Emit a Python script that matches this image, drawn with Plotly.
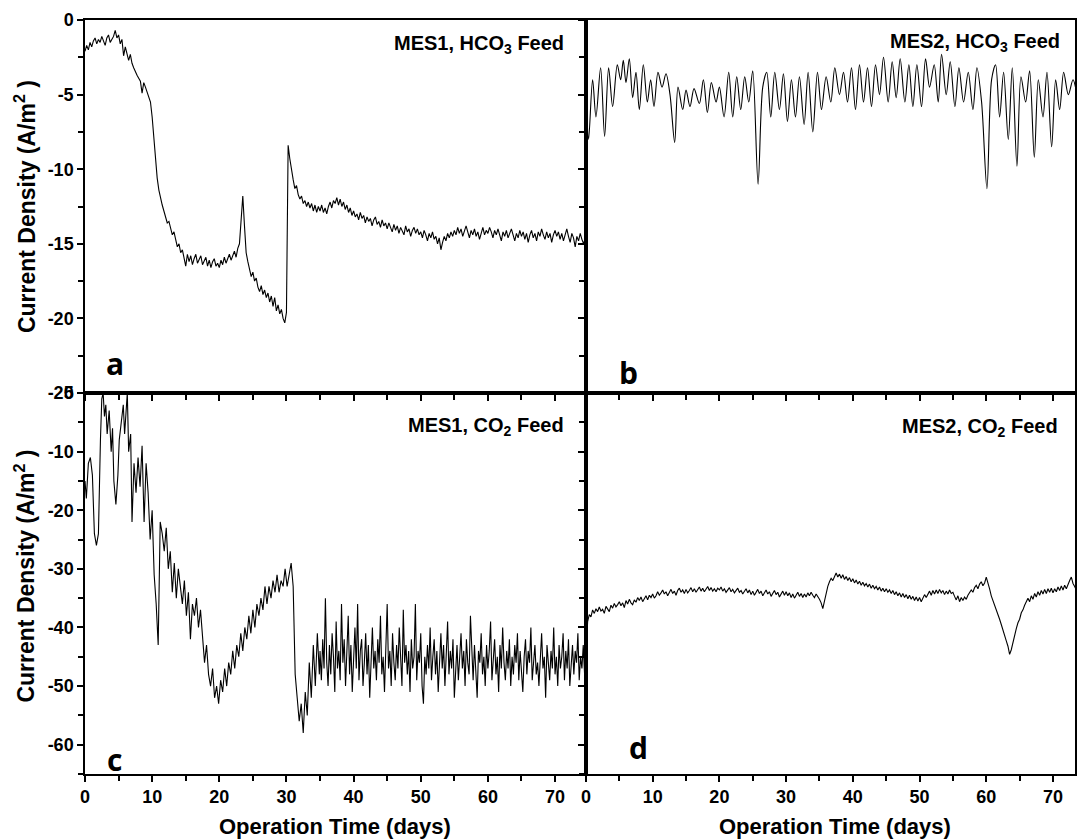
import plotly.graph_objects as go

# ---------------- data ----------------
# MES1, HCO3 feed (panel a): readings every 0.25 day
a_val = [
    -2.1, -1.7, -2.0, -1.5, -1.8, -1.4, -1.2, -1.6, -1.3, -1.5, -1.1, -1.4, -1.7, -1.2, -1.0, -1.5, -1.3, -1.1, -0.7, -1.2,
    -1.0, -1.6, -1.3, -2.4, -1.8, -2.2, -2.7, -2.3, -2.9, -3.2, -3.5, -3.7, -3.9, -4.1, -4.9, -4.2, -4.5, -4.8, -5.2, -5.5,
    -6.5, -8.0, -9.5, -10.6, -11.4, -12.0, -12.4, -12.8, -13.2, -13.6, -13.5, -14.0, -14.4, -14.2, -14.8, -15.2, -15.0, -15.6, -15.4, -16.0,
    -16.5, -15.7, -16.2, -15.8, -16.4, -16.0, -15.7, -16.3, -16.1, -15.8, -16.4, -16.2, -15.9, -16.5, -16.1, -16.6, -16.2, -16.0, -16.5, -16.3,
    -16.6, -16.1, -16.4, -15.9, -16.3, -16.0, -15.7, -16.1, -15.8, -15.5, -15.9, -15.3, -15.0, -13.5, -11.8, -13.8, -15.6, -16.2, -16.8, -17.2,
    -16.9, -17.5, -17.3, -17.9, -18.2, -17.8, -18.4, -18.1, -18.6, -18.3, -18.9, -18.5, -19.2, -18.6, -19.5, -19.1, -19.7, -19.4, -20.0, -20.3,
    -19.6, -8.4, -9.3, -10.1, -10.7, -11.3, -11.1, -11.7, -12.0, -11.8, -12.3, -12.1, -12.5, -12.2, -12.6, -12.3, -12.8, -12.4, -12.9, -12.5,
    -12.8, -12.4, -12.9, -12.6, -13.0, -12.5, -12.2, -12.6, -12.1, -12.3, -11.9, -12.4, -12.0, -12.5, -12.2, -12.7, -12.4, -12.9, -12.6, -13.1,
    -12.8, -13.2, -13.0, -13.4, -12.9, -13.3, -13.1, -13.6, -13.2, -13.5, -13.3, -13.8, -13.4, -13.2, -13.7, -13.5, -13.9, -13.4, -13.8, -13.6,
    -14.0, -13.6, -13.9, -14.2, -13.7, -14.1, -13.8, -14.3, -13.9, -14.1, -14.4, -13.8, -14.2, -14.0, -14.5, -14.1, -13.9, -14.3, -14.0, -14.4,
    -14.2, -14.6, -14.1, -14.4, -14.8, -14.3, -14.6, -14.2, -14.7, -14.5, -15.0, -14.6, -15.4, -14.9, -14.5, -14.8, -14.3, -14.6, -14.2, -14.5,
    -14.1, -14.4, -13.9, -14.3, -14.0, -14.5, -14.1, -13.8, -14.2, -14.6, -14.1, -14.4, -14.0, -14.5, -14.2, -14.7, -14.3, -13.9, -14.4, -14.1,
    -14.3, -13.9, -14.2, -14.6, -14.1, -14.4, -14.0, -14.5, -14.8, -14.2, -14.5, -14.1, -14.6, -14.3, -14.0, -14.4, -14.8, -14.3, -14.6, -14.1,
    -14.5, -14.2, -14.7, -14.3, -14.9, -14.4, -14.1, -14.6, -14.3, -14.8, -14.2, -14.5, -14.0, -14.4, -14.7, -14.2, -14.6, -14.3, -14.9, -14.4,
    -14.1, -14.5, -14.2, -14.7, -14.3, -14.8, -14.4, -14.0, -14.5, -14.9, -14.3, -14.6, -15.2, -14.5, -14.8, -14.3, -14.7, -15.0, -14.6]
a_day = [0.25 * i for i in range(len(a_val))]

# MES2, HCO3 feed (panel b): turning points of the oscillation
b_day = [0, 0.4, 1.0, 1.5, 2.2, 2.8, 3.4, 4.0, 4.7, 5.2, 5.6, 6.0, 6.5, 7.0, 7.5, 8.0, 8.6, 9.2, 9.7, 10.2,
         10.8, 11.4, 12.0, 12.6, 13.3, 13.8, 14.5, 15.0, 15.6, 16.2, 17.0, 17.6, 18.2, 18.8, 19.5, 20.0, 20.7, 21.4, 22.0, 22.6,
         23.2, 23.8, 24.4, 25.0, 25.8, 26.5, 27.1, 27.7, 28.3, 29.0, 29.6, 30.2, 30.8, 31.4, 32.0, 32.7, 33.3, 34.0, 34.7, 35.3,
         36.0, 36.7, 37.3, 38.0, 38.6, 39.2, 39.8, 40.4, 41.0, 41.6, 42.2, 42.8, 43.4, 44.0, 44.6, 45.3, 45.9, 46.5, 47.1, 47.8,
         48.4, 49.0, 49.6, 50.3, 50.9, 51.5, 52.2, 52.8, 53.3, 54.0, 54.6, 55.3, 55.9, 56.6, 57.3, 58.0, 58.6, 59.3, 60.1, 60.8,
         61.4, 62.0, 62.6, 63.3, 63.9, 64.6, 65.2, 65.9, 66.5, 67.2, 67.8, 68.5, 69.1, 69.8, 70.4, 71.0, 71.6, 72.3, 73.0, 73.5]
b_val = [-3.0, -8.0, -4.0, -6.5, -3.2, -7.8, -3.2, -5.8, -3.0, -4.0, -2.7, -4.2, -2.6, -5.2, -3.5, -6.0, -3.0, -5.5, -4.0, -5.8,
         -3.5, -4.5, -3.6, -5.0, -8.2, -4.5, -6.0, -4.7, -5.8, -4.6, -5.6, -4.0, -6.2, -4.2, -5.5, -4.5, -6.5, -3.5, -6.5, -3.8,
         -6.0, -3.8, -5.5, -3.4, -11.0, -4.5, -3.5, -6.5, -3.5, -6.0, -3.6, -6.8, -4.0, -6.5, -3.8, -7.0, -3.5, -7.5, -3.5, -6.0,
         -3.8, -5.5, -3.2, -5.0, -3.5, -5.5, -3.2, -6.0, -3.0, -5.5, -3.2, -5.8, -3.0, -5.0, -2.5, -5.5, -2.8, -5.2, -2.6, -5.5,
         -3.0, -5.8, -3.0, -5.8, -2.6, -4.5, -3.0, -5.5, -2.3, -5.0, -2.8, -5.8, -3.2, -5.5, -3.5, -6.0, -3.2, -5.5, -11.3, -4.0,
         -3.0, -6.5, -3.5, -8.0, -3.2, -9.8, -3.8, -5.5, -3.4, -9.2, -4.0, -6.5, -3.5, -8.5, -4.0, -6.0, -3.5, -5.0, -4.0, -4.8]

# MES1, CO2 feed (panel c): start-up and transition, then readings every 0.2 day from day 35
c_day_start = [0, 0.2, 0.5, 0.8, 1.1, 1.4, 1.7, 2.0, 2.3, 2.5, 2.7, 2.9, 3.1, 3.3, 3.6, 3.9, 4.1, 4.3, 4.6, 4.9,
               5.1, 5.4, 5.7, 5.9, 6.1, 6.3, 6.5, 6.8, 7.0, 7.3, 7.6, 7.9, 8.2, 8.5, 8.8, 9.1, 9.4, 9.7, 10.0, 10.3,
               10.6, 10.9, 11.2, 11.5, 11.8, 12.1, 12.4, 12.7, 13.0, 13.3, 13.6, 13.9, 14.2, 14.5, 14.8, 15.1, 15.4, 15.7, 16.0, 16.3,
               16.6, 16.9, 17.2, 17.5, 17.8, 18.1, 18.4, 18.7, 19.0, 19.3, 19.6, 19.9, 20.2, 20.5, 20.8, 21.1, 21.4, 21.7, 22.0, 22.3,
               22.6, 22.9, 23.2, 23.5, 23.8, 24.1, 24.4, 24.7, 25.0, 25.3, 25.6, 25.9, 26.2, 26.5, 26.8, 27.1, 27.4, 27.7, 28.0, 28.3,
               28.6, 28.9, 29.2, 29.5, 29.8, 30.1, 30.4, 30.7, 31.0, 31.3, 31.6, 31.9, 32.2, 32.5, 32.8, 33.1, 33.4, 33.7, 34.0, 34.3,
               34.6, 34.9]
c_val_start = [-15, -18, -12, -11, -14, -24, -26, -24, -8, -1, 0, -4, -2, -7, -3, -10, -6, -15, -19, -14,
               -8, -5, -2, -7, -3, 0, -10, -7, -22, -12, -17, -11, -16, -9, -22, -12, -17, -25, -20, -31,
               -36, -43, -22, -24, -27, -23, -30, -27, -34, -29, -35, -30, -33, -36, -32, -38, -34, -42, -36, -38,
               -35, -40, -37, -42, -46, -43, -48, -50, -47, -52, -50, -53, -49, -51, -47, -50, -46, -48, -44, -47,
               -43, -45, -41, -44, -40, -42, -38, -41, -37, -40, -36, -38, -35, -37, -33, -36, -33, -35, -32, -34,
               -31, -34, -32, -33, -30, -33, -31, -29, -33, -48, -52, -56, -53, -58, -51, -55, -46, -52, -43, -50,
               -41, -48]
c_val_late = [
    -44, -49, -42, -47, -35, -46, -50, -43, -48, -41, -45, -51, -39, -47, -44, -49, -36, -46, -42, -50,
    -44, -38, -48, -43, -51, -45, -40, -47, -36, -49, -44, -42, -50, -46, -41, -48, -43, -52, -45, -40,
    -47, -44, -49, -42, -46, -38, -48, -45, -51, -43, -36, -47, -44, -50, -41, -46, -49, -43, -47, -40,
    -45, -50, -37, -46, -43, -48, -44, -51, -42, -47, -45, -36, -49, -44, -46, -41, -50, -53, -45, -48,
    -43, -47, -40, -49, -45, -42, -48, -44, -51, -46, -41, -47, -43, -50, -45, -39, -48, -44, -47, -42,
    -52, -46, -43, -49, -45, -41, -47, -44, -50, -42, -46, -48, -38, -45, -49, -43, -47, -52, -44, -46,
    -41, -48, -45, -50, -43, -47, -44, -39, -49, -46, -42, -48, -45, -51, -43, -47, -40, -46, -49, -44,
    -47, -42, -50, -45, -48, -43, -46, -41, -49, -44, -47, -51, -45, -42, -48, -44, -46, -40, -49, -45,
    -43, -48, -46, -50, -44, -41, -47, -45, -52, -43, -46, -49, -44, -47, -40, -48, -45, -50, -43, -47,
    -45, -41, -49, -44, -47, -42, -50, -46, -43, -48, -44, -46, -41, -49, -45, -47, -43, -48, -46]
c_day = c_day_start + [35 + 0.2 * i for i in range(len(c_val_late))]
c_val = c_val_start + c_val_late

# MES2, CO2 feed (panel d): readings every 0.25 day
d_val = [
    -45, -39, -37.8, -38.2, -37.0, -37.6, -36.8, -37.3, -36.5, -37.2, -36.9, -37.6, -36.4, -36.9, -37.3, -36.2, -36.7, -35.9, -36.5, -36.1,
    -35.6, -36.3, -35.8, -36.6, -35.4, -36.0, -35.2, -35.8, -36.1, -35.3, -35.7, -34.9, -35.4, -34.8, -35.6, -35.1, -34.6, -35.3, -34.5, -34.9,
    -34.3, -35.0, -34.6, -33.9, -34.5, -34.1, -33.6, -34.3, -33.9, -34.6, -34.0, -33.5, -34.2, -33.8, -34.5, -33.7, -33.3, -34.0, -33.6, -34.2,
    -33.5, -34.1, -33.7, -33.2, -33.9, -33.4, -34.0, -33.6, -33.1, -33.8, -33.3, -33.9, -33.5, -33.0, -33.7, -33.2, -33.8, -33.4, -33.9, -33.3,
    -33.6, -33.1, -33.8, -33.4, -34.0, -33.5, -33.2, -33.9, -33.5, -34.1, -33.6, -33.3, -34.0, -33.7, -34.3, -33.8, -33.4, -34.1, -33.6, -34.4,
    -33.8, -34.5, -33.9, -33.5, -34.2, -33.8, -34.6, -34.0, -33.6, -34.3, -33.9, -34.7, -34.1, -33.7, -34.4, -34.0, -34.8, -34.2, -33.8, -34.5,
    -33.9, -34.6, -34.1, -34.9, -34.3, -35.0, -34.4, -34.0, -34.7, -34.2, -34.9, -34.3, -34.8, -34.1, -34.6, -34.0, -34.5, -34.9, -34.3, -34.7,
    -35.2, -35.8, -36.8, -35.5, -34.2, -33.0, -32.2, -31.6, -32.0, -31.2, -30.7, -31.4, -30.9, -31.6, -31.0, -31.8, -31.3, -32.0, -31.5, -32.2,
    -31.7, -32.4, -31.9, -32.6, -32.1, -32.8, -32.3, -32.9, -32.5, -33.1, -32.6, -33.3, -32.8, -33.4, -33.0, -33.6, -33.1, -33.8, -33.3, -33.9,
    -33.4, -34.0, -33.6, -34.2, -33.7, -34.4, -33.9, -34.6, -34.1, -34.8, -34.2, -34.9, -34.4, -35.1, -34.5, -35.2, -34.7, -35.4, -34.8, -35.5,
    -34.9, -35.6, -35.0, -34.4, -34.9, -34.2, -33.8, -34.5, -33.7, -34.3, -33.6, -34.2, -33.5, -34.1, -33.7, -34.4, -33.8, -34.3, -33.6, -34.2,
    -34.0, -34.7, -35.3, -34.6, -35.6, -34.9, -35.4, -34.8, -35.2, -34.5, -34.1, -33.6, -34.0, -33.2, -32.8, -33.4, -32.6, -32.2, -32.9, -32.4,
    -31.4, -32.3, -33.4, -34.6, -35.4, -36.0, -36.7, -37.8, -38.6, -39.5, -40.6, -41.5, -42.3, -43.2, -44.6, -43.8, -42.5, -41.0, -40.2, -39.2,
    -38.6, -37.5, -37.0, -36.2, -35.6, -35.0, -35.6, -34.6, -35.2, -34.2, -34.8, -33.9, -34.5, -33.7, -34.3, -33.5, -34.2, -33.4, -34.0, -33.3,
    -34.1, -33.4, -33.9, -33.1, -33.7, -32.9, -33.6, -32.8, -33.4, -32.6, -32.0, -31.4, -32.5, -33.0, -33.6]
d_day = [0.25 * i for i in range(len(d_val))]

# tick values and labels
day_ticks = [0, 10, 20, 30, 40, 50, 60, 70]
top_ticks = [0, -5, -10, -15, -20, -25]
bottom_ticks = [0, -10, -20, -30, -40, -50, -60]

panel_notes = ["MES1, HCO<sub>3</sub> Feed", "MES2, HCO<sub>3</sub> Feed",
               "MES1, CO<sub>2</sub> Feed", "MES2, CO<sub>2</sub> Feed"]
panel_letters = ["a", "b", "c", "d"]
y_title = "Current Density (A/m<sup>2</sup> )"
x_title = "Operation Time (days)"

# ---------------- figure ----------------
FONT = "Liberation Sans, Arial, sans-serif"
LINE = dict(color="black", width=1.1)

fig = go.Figure()
fig.add_trace(go.Scatter(x=a_day, y=a_val, mode="lines", line=LINE, xaxis="x3", yaxis="y3"))
fig.add_trace(go.Scatter(x=b_day, y=b_val, mode="lines", line=dict(LINE, shape="spline", smoothing=0.9),
                         xaxis="x4", yaxis="y4"))
fig.add_trace(go.Scatter(x=c_day, y=c_val, mode="lines", line=LINE, xaxis="x", yaxis="y"))
fig.add_trace(go.Scatter(x=d_day, y=d_val, mode="lines", line=LINE, xaxis="x2", yaxis="y2"))

XL = [0, 0.506]
XR = [0.506, 1.0]
YB = [0, 0.5053]
YT = [0.5053, 1.0]
tickfont = dict(family=FONT, size=18, color="black", weight="bold")


def bold(vals):
    return ["<b>%d</b>" % v for v in vals]


def common(domain, anchor, rng, ticks, labels, minor_dt):
    return dict(domain=domain, anchor=anchor, range=rng, showline=True, linecolor="black",
                linewidth=1.5, mirror=True, ticks="outside", ticklen=6, tickwidth=1.5,
                tickcolor="black", tickmode="array", tickvals=ticks, ticktext=bold(ticks),
                showticklabels=labels, tickfont=tickfont, showgrid=False, zeroline=False,
                minor=dict(tickmode="linear", tick0=0, dtick=minor_dt, ticks="outside",
                           ticklen=5, tickwidth=1.5, tickcolor="black"))


fig.update_layout(
    width=1079, height=839,
    margin=dict(l=85, r=2, t=20, b=65),
    paper_bgcolor="white", plot_bgcolor="white",
    showlegend=False,
    xaxis=common(XL, "y", [0, 74.6], day_ticks, True, 5),
    yaxis=common(YB, "x", [-65, 0], bottom_ticks, True, 5),
    xaxis2=common(XR, "y2", [0, 73.3], day_ticks, True, 5),
    yaxis2=common(YB, "x2", [-65, 0], bottom_ticks, False, 5),
    xaxis3=common(XL, "y3", [0, 74.6], day_ticks, False, 5),
    yaxis3=common(YT, "x3", [-25, 0], top_ticks, True, 2.5),
    xaxis4=common(XR, "y4", [0, 73.3], day_ticks, False, 5),
    yaxis4=common(YT, "x4", [-25, 0], top_ticks, False, 2.5),
)

ann = []
ytitle_font = dict(family=FONT, size=23, color="black", weight="bold")
xtitle_font = dict(family=FONT, size=22, color="black", weight="bold")
note_font = dict(family=FONT, size=20, color="black", weight="bold")
letter_font = dict(family="Open Sans, sans-serif", size=30, color="black", weight="bold")

# axis titles
for yc in (0.752, 0.262):
    ann.append(dict(text="<b>%s</b>" % y_title, x=-0.0605, y=yc, xref="paper", yref="paper", textangle=-90,
                    showarrow=False, font=ytitle_font, xanchor="center", yanchor="middle"))
for xc in (0.253, 0.758):
    ann.append(dict(text="<b>%s</b>" % x_title, x=xc, y=-0.070, xref="paper", yref="paper",
                    showarrow=False, font=xtitle_font, xanchor="center", yanchor="middle"))

# panel notes
for txt, (xp, yp) in zip(panel_notes, [(0.486, 0.968), (0.987, 0.9695), (0.486, 0.4615), (0.985, 0.459)]):
    ann.append(dict(text="<b>%s</b>" % txt, x=xp, y=yp, xref="paper", yref="paper", showarrow=False,
                    font=note_font, xanchor="right", yanchor="middle"))

# panel letters
for txt, (xp, yp) in zip(panel_letters, [(0.030, 0.544), (0.549, 0.532), (0.030, 0.0186), (0.559, 0.0345)]):
    ann.append(dict(text="<b>%s</b>" % txt, x=xp, y=yp, xref="paper", yref="paper", showarrow=False,
                    font=letter_font, xanchor="center", yanchor="middle"))

fig.update_layout(annotations=ann)
fig.write_html("out.html")
